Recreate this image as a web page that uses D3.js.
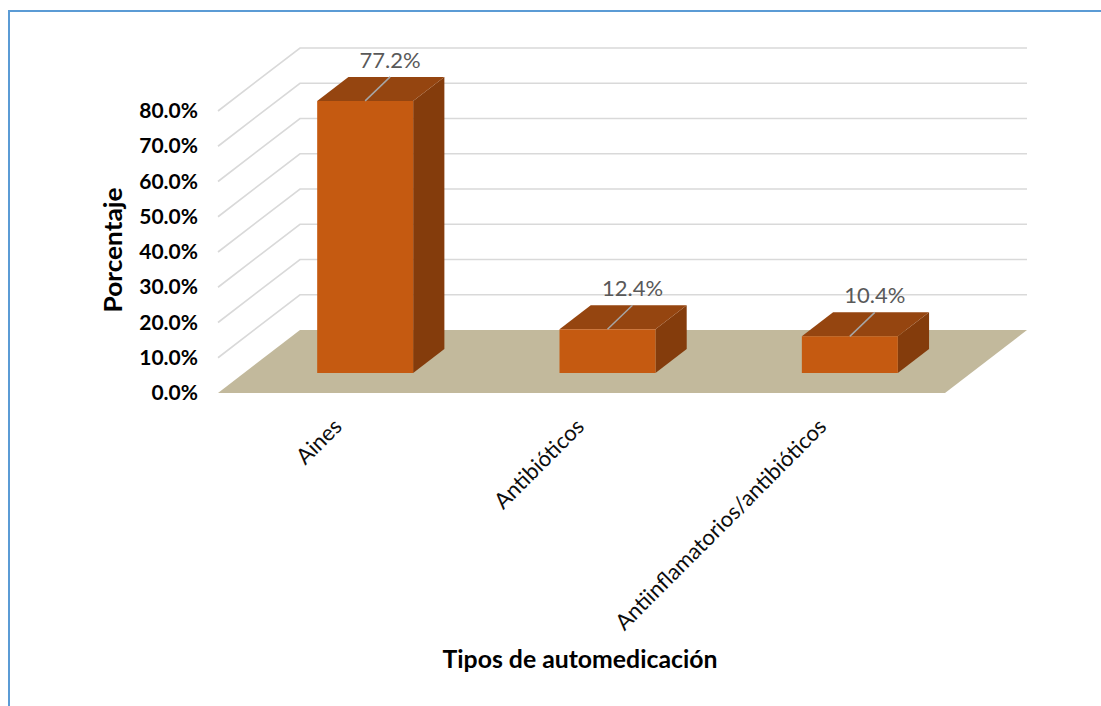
<!DOCTYPE html>
<html><head><meta charset="utf-8">
<script src="https://cdn.jsdelivr.net/npm/d3@7"></script>
<style>
body{margin:0;background:#fff;}
svg{display:block;font-family:Lato,"Open Sans",sans-serif;}
</style>
</head><body><svg id="chart" width="1101" height="706"></svg>
<script>
const categories = ["Aines", "Antibióticos", "Antiinflamatorios/antibióticos"];
const values = [0.772, 0.124, 0.104];
const valueLabels = ["77.2%", "12.4%", "10.4%"];
const tickValues = [0, 0.1, 0.2, 0.3, 0.4, 0.5, 0.6, 0.7, 0.8];
const yAxisTitle = "Porcentaje";
const xAxisTitle = "Tipos de automedicación";

const svg = d3.select("#chart");
svg.append("rect").attr("width", 1101).attr("height", 706).attr("fill", "#fff");

// border
svg.append("path").attr("d", "M9,706 L9,11 L1101,11")
  .attr("fill", "none").attr("stroke", "#5B9BD5").attr("stroke-width", 2);

const x = d3.scaleBand().domain(categories).range([218, 945]);
const y = d3.scaleLinear().domain([0, 0.8]).range([393, 111]);
const DX = 82, DY = -63;
const P = (xv, yv, z) => [xv + z * DX, yv + z * DY];
const line = pts => "M" + pts.map(p => p.join(",")).join("L");
const poly = pts => line(pts) + "Z";

// wall gridlines
svg.append("g").selectAll("path").data(tickValues.filter(t => t > 0)).join("path")
  .attr("d", t => line([P(218, y(t), 0), P(218, y(t), 1), P(945, y(t), 1)]))
  .attr("fill", "none").attr("stroke", "#D9D9D9").attr("stroke-width", 1.6);

// floor
svg.append("path")
  .attr("d", poly([P(218, y(0), 0), P(218, y(0), 1), P(945, y(0), 1), P(945, y(0), 0)]))
  .attr("fill", "#C2B99C");

// bars
const z0 = 0.317, z1 = 0.698, wFrac = 0.396;
const bars = svg.append("g").selectAll("g").data(categories.map((c, i) => ({c, v: values[i], lab: valueLabels[i]}))).join("g");
const bx0 = d => x(d.c) + x.bandwidth() * (1 - wFrac) / 2;
const bx1 = d => bx0(d) + x.bandwidth() * wFrac;
bars.append("path").attr("d", d => poly([P(bx1(d), y(d.v), z0), P(bx1(d), y(d.v), z1), P(bx1(d), y(0), z1), P(bx1(d), y(0), z0)]))
  .attr("fill", "#843C0C");
bars.append("path").attr("d", d => poly([P(bx0(d), y(d.v), z0), P(bx1(d), y(d.v), z0), P(bx1(d), y(d.v), z1), P(bx0(d), y(d.v), z1)]))
  .attr("fill", "#954510");
bars.append("path").attr("d", d => poly([P(bx0(d), y(d.v), z0), P(bx1(d), y(d.v), z0), P(bx1(d), y(0), z0), P(bx0(d), y(0), z0)]))
  .attr("fill", "#C55A11");

// leader lines + labels
const lead = d => {
  const s = P((bx0(d) + bx1(d)) / 2, y(d.v), z0);
  const e = P((bx0(d) + bx1(d)) / 2, y(d.v), z1);
  return [s, [s[0] + 0.8 * (z1 - z0) * DX, e[1]]];
};
bars.append("path").attr("d", d => line(lead(d)))
  .attr("stroke", "#A6A6A6").attr("stroke-width", 1.5).attr("fill", "none");
bars.append("text").attr("x", d => lead(d)[1][0]).attr("y", d => lead(d)[1][1] - 9)
  .attr("text-anchor", "middle").attr("font-size", 22).attr("fill", "#595959")
  .text(d => d.lab);

// y axis
const yAxis = svg.append("g").attr("transform", "translate(218,0)")
  .call(d3.axisLeft(y).tickValues(tickValues).tickFormat(d3.format(".1%")).tickSize(0).tickPadding(20));
yAxis.select(".domain").remove();
yAxis.selectAll("text").attr("font-size", 21).attr("font-weight", "bold").attr("fill", "#000")
  .attr("font-family", "Lato, 'Open Sans', sans-serif");

// x labels
svg.append("g").selectAll("text").data(categories).join("text")
  .attr("transform", c => `translate(${x(c) + x.bandwidth() / 2 + 4},428) rotate(-45)`)
  .attr("text-anchor", "end").attr("font-size", 22).attr("fill", "#0D0D0D")
  .text(c => c);

// titles
svg.append("text").attr("transform", "translate(122,250) rotate(-90)")
  .attr("text-anchor", "middle").attr("font-size", 24).attr("font-weight", "bold").attr("fill", "#000")
  .attr("textLength", 125).attr("lengthAdjust", "spacingAndGlyphs")
  .text(yAxisTitle);
svg.append("text").attr("x", 580).attr("y", 668)
  .attr("text-anchor", "middle").attr("font-size", 24).attr("font-weight", "bold").attr("fill", "#000")
  .attr("textLength", 275).attr("lengthAdjust", "spacingAndGlyphs")
  .text(xAxisTitle);
</script>
</body></html>
